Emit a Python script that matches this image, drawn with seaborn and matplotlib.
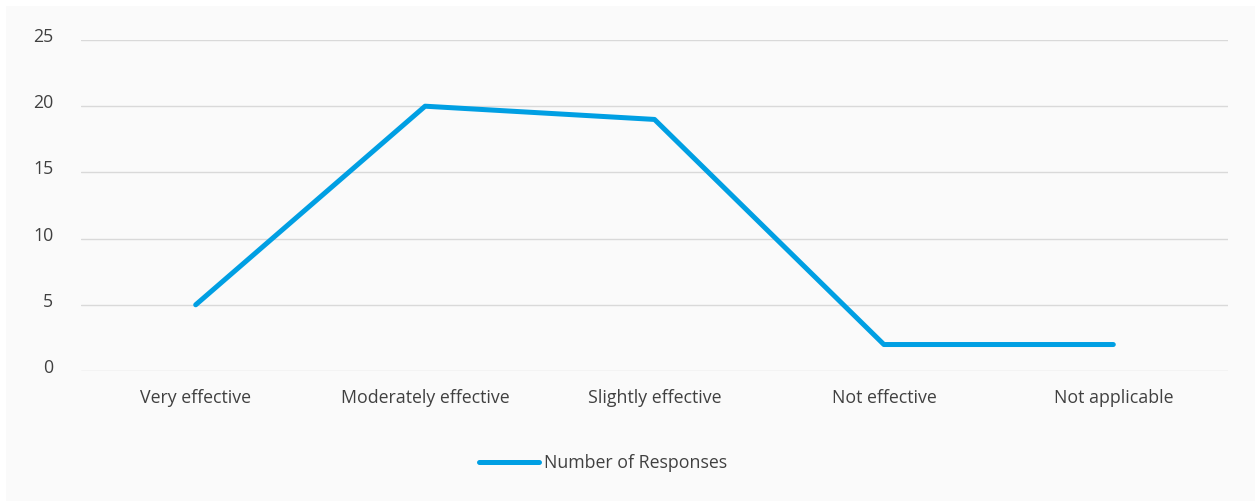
import matplotlib
matplotlib.use("Agg")
import matplotlib.pyplot as plt
import matplotlib.transforms as mtransforms
import seaborn as sns
import pandas as pd
from matplotlib.patches import Rectangle

categories = ["Very effective", "Moderately effective", "Slightly effective",
              "Not effective", "Not applicable"]
responses = [5, 20, 19, 2, 2]
series_name = "Number of Responses"
y_ticks = [0, 5, 10, 15, 20, 25]

sns.set_theme(style="white")
plt.rcParams["font.family"] = ["Open Sans", "DejaVu Sans"]

W, H = 1255, 501
fig = plt.figure(figsize=(W / 100, H / 100), dpi=100)
fig.patch.set_facecolor("white")

# light panel behind the chart
fig.patches.append(Rectangle((6 / W, 0), 1 - 6 / W, 1 - 6 / H,
                             transform=fig.transFigure, facecolor="#fafafa",
                             edgecolor="none", zorder=-10))

ax = fig.add_axes([81 / W, 1 - 371 / H, (1228 - 81) / W, (371 - 40) / H])
ax.set_facecolor("none")

df = pd.DataFrame({"category": categories, "value": responses})
sns.lineplot(data=df, x="category", y="value", ax=ax, color="#009FE3",
             linewidth=3.6, label=series_name, sort=False)
for ln in ax.lines:
    ln.set_solid_capstyle("round")
    ln.set_solid_joinstyle("round")

ax.set_xlim(-0.5, len(categories) - 0.5)
ax.set_ylim(0, 25)
ax.set_yticks(y_ticks)
ax.set_xlabel("")
ax.set_ylabel("")

ax.yaxis.grid(True, color="#d9d9d9", linewidth=1.0)
ax.xaxis.grid(False)
ax.set_axisbelow(True)
for s in ax.spines.values():
    s.set_visible(False)

text_color = "#404040"
ax.tick_params(axis="y", length=0, pad=20, labelsize=12.8, labelcolor=text_color)
ax.tick_params(axis="x", length=0, pad=13, labelsize=12.8, labelcolor=text_color)

# y labels sit slightly above their gridlines
shift = mtransforms.ScaledTranslation(0, 5 / 100, fig.dpi_scale_trans)
for lbl in ax.get_yticklabels():
    lbl.set_transform(lbl.get_transform() + shift)

ax.get_legend().remove()
handles, labels = ax.get_legend_handles_labels()
leg = fig.legend(handles, labels, loc="center left",
                 bbox_to_anchor=(479 / W, 1 - 463 / H), frameon=False,
                 fontsize=12.8, handlelength=3.4, handletextpad=0.25,
                 borderpad=0, borderaxespad=0, labelcolor=text_color)
for h in leg.get_lines():
    h.set_solid_capstyle("round")
    h.set_linewidth(3.6)

fig.savefig("out.png", dpi=100, facecolor=fig.get_facecolor())
